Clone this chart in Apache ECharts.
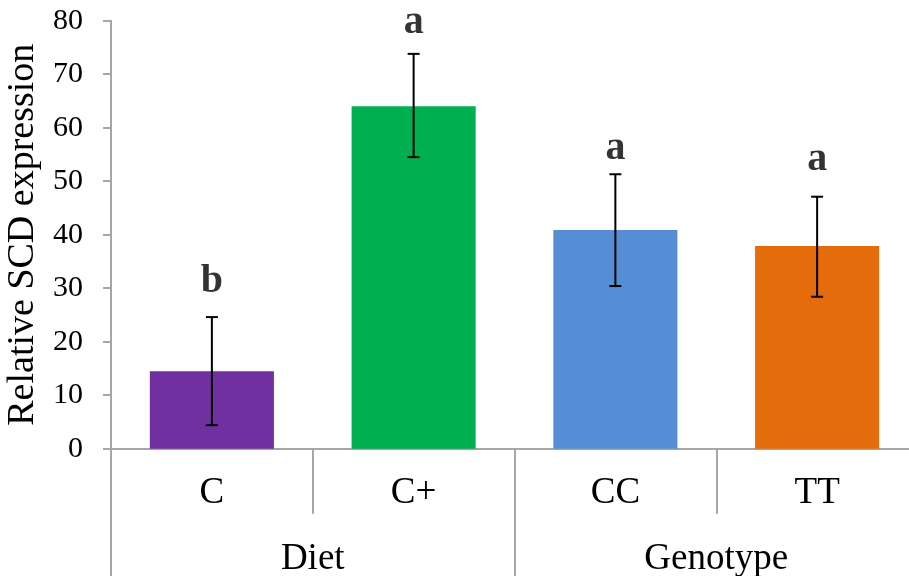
<!DOCTYPE html>
<html>
<head>
<meta charset="utf-8">
<script src="https://cdn.jsdelivr.net/npm/echarts@6/dist/echarts.min.js"></script>
<style>html,body{margin:0;padding:0;background:#fff;}#c{width:909px;height:576px;}</style>
</head>
<body>
<div id="c"></div>
<script>
var categories = ['C', 'C+', 'CC', 'TT'];
var groups = ['Diet', 'Genotype'];
var values = [14.5, 64.0, 40.9, 37.9];
var errLow = [4.4, 54.5, 30.4, 28.4];
var errHigh = [24.6, 73.8, 51.3, 47.1];
var letters = ['b', 'a', 'a', 'a'];
var letterY = [29.3, 77.8, 54.3, 52.2];
var yTicks = [0, 10, 20, 30, 40, 50, 60, 70, 80];

var colors = ['#7030A0', '#00B050', '#558ED5', '#E46C0A'];
var FONT = '"Liberation Serif", "Times New Roman", serif';
var AX = '#A6A6A6';

var chart = echarts.init(document.getElementById('c'), null, {renderer: 'canvas'});
chart.setOption({
  animation: false,
  backgroundColor: '#fff',
  grid: {left: 111, right: -9, top: 20.7, bottom: 127.3, outerBoundsMode: 'none', containLabel: false},
  xAxis: [{
    type: 'category', data: categories, position: 'bottom',
    axisLine: {show: true, lineStyle: {color: AX, width: 2}},
    axisTick: {show: true, interval: 0, length: 65, lineStyle: {color: AX, width: 2}},
    axisLabel: {interval: 0, margin: 26, fontFamily: FONT, fontSize: 37, color: '#000'},
    splitLine: {show: false}
  }, {
    type: 'category', data: groups, position: 'bottom', offset: 0,
    axisLine: {show: false},
    axisTick: {show: true, interval: 0, length: 130, lineStyle: {color: AX, width: 2}},
    axisLabel: {interval: 0, margin: 92, fontFamily: FONT, fontSize: 37, color: '#000'},
    splitLine: {show: false}
  }],
  yAxis: {
    type: 'value', min: yTicks[0], max: yTicks[yTicks.length - 1], interval: 10,
    name: 'Relative SCD expression', nameLocation: 'middle', nameGap: 61,
    nameTextStyle: {fontFamily: FONT, fontSize: 38, color: '#000'},
    axisLine: {show: true, lineStyle: {color: AX, width: 2}},
    axisTick: {show: true, length: 8, lineStyle: {color: AX, width: 2}},
    axisLabel: {margin: 28, fontFamily: FONT, fontSize: 30, color: '#000'},
    splitLine: {show: false}
  },
  series: [{
    type: 'bar', xAxisIndex: 0,
    barCategoryGap: '38.5%',
    data: values.map(function (v, i) { return {value: v, itemStyle: {color: colors[i]}}; }),
    z: 2
  }, {
    type: 'custom', xAxisIndex: 0, z: 5,
    data: categories.map(function (c, i) { return [i, errLow[i], errHigh[i]]; }),
    renderItem: function (params, api) {
      var lo = api.coord([api.value(0), api.value(1)]);
      var hi = api.coord([api.value(0), api.value(2)]);
      var hw = 6;
      var st = {stroke: '#000', lineWidth: 2};
      return {type: 'group', children: [
        {type: 'line', shape: {x1: lo[0], y1: lo[1], x2: hi[0], y2: hi[1]}, style: st},
        {type: 'line', shape: {x1: lo[0] - hw, y1: lo[1], x2: lo[0] + hw, y2: lo[1]}, style: st},
        {type: 'line', shape: {x1: hi[0] - hw, y1: hi[1], x2: hi[0] + hw, y2: hi[1]}, style: st}
      ]};
    }
  }, {
    type: 'scatter', xAxisIndex: 0, symbolSize: 0, z: 6,
    data: categories.map(function (c, i) { return [i, letterY[i]]; }),
    label: {
      show: true, position: 'inside', offset: [0, -10],
      formatter: function (p) { return letters[p.dataIndex]; },
      fontFamily: FONT, fontSize: 40, fontWeight: 'bold', color: '#000',
      textBorderWidth: 0
    }
  }]
});
</script>
</body>
</html>
